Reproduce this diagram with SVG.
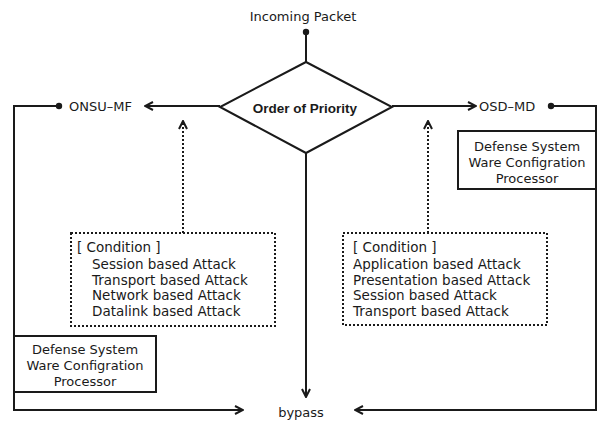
<svg xmlns="http://www.w3.org/2000/svg" width="602" height="422" viewBox="0 0 602 422">
<style>
text{font-family:"DejaVu Sans",sans-serif;font-size:13px;fill:#1a1a1a}
.c{text-anchor:middle}
.k{font-size:13.5px}
.b{font-family:"Liberation Sans",Arial,sans-serif;font-weight:bold;font-size:13.5px}
.ln{fill:none;stroke:#1a1a1a;stroke-width:2}
.dt{fill:none;stroke:#1a1a1a;stroke-width:2;stroke-dasharray:2 2}
.box{fill:#fff;stroke:#1a1a1a;stroke-width:2}
.dbox{fill:none;stroke:#1a1a1a;stroke-width:2;stroke-dasharray:2 2}
.dot{fill:#1a1a1a}
</style>
<defs>
<marker id="ah" viewBox="0 0 10 10" refX="9" refY="5" markerWidth="10" markerHeight="10" markerUnits="userSpaceOnUse" orient="auto">
<path d="M1,1 L9,5 L1,9" fill="none" stroke="#1a1a1a" stroke-width="2"/>
</marker>
</defs>
<g id="connectors">
<line class="ln" x1="306" y1="32" x2="306" y2="62"/>
<circle class="dot" cx="306" cy="32" r="3.2"/>
<line class="ln" x1="220" y1="106" x2="145" y2="106" marker-end="url(#ah)"/>
<line class="ln" x1="392" y1="106" x2="476" y2="106" marker-end="url(#ah)"/>
<line class="ln" x1="306" y1="153" x2="306" y2="397" marker-end="url(#ah)"/>
<polyline class="ln" points="59,106 14,106 14,410 243,410" marker-end="url(#ah)"/>
<circle class="dot" cx="59" cy="106" r="3.2"/>
<polyline class="ln" points="551,106 596,106 596,410 355,410" marker-end="url(#ah)"/>
<circle class="dot" cx="551" cy="106" r="3.2"/>
<line class="dt" x1="183" y1="233" x2="183" y2="121" marker-end="url(#ah)"/>
<line class="dt" x1="428" y1="233" x2="428" y2="121" marker-end="url(#ah)"/>
</g>
<g id="incoming"><text class="c" x="303" y="21">Incoming Packet</text></g>
<g id="priority">
<polygon class="box" points="306,62 392,107 306,153 220,107"/>
<text class="c b" x="305" y="113">Order of Priority</text>
</g>
<g id="onsu"><text x="69" y="111">ONSU–MF</text></g>
<g id="osd"><text x="479" y="111">OSD–MD</text></g>
<g id="dswcp-right">
<rect class="box" x="458" y="131" width="138" height="58"/>
<text class="c" x="527" y="151">Defense System</text>
<text class="c" x="527" y="167">Ware Configration</text>
<text class="c" x="527" y="183">Processor</text>
</g>
<g id="dswcp-left">
<rect class="box" x="14" y="336" width="142" height="56"/>
<text class="c" x="85" y="354">Defense System</text>
<text class="c" x="85" y="370">Ware Configration</text>
<text class="c" x="85" y="386">Processor</text>
</g>
<g id="cond-left">
<rect class="dbox" x="71" y="233" width="204" height="93"/>
<text class="k" x="77" y="252">[ Condition ]</text>
<text class="k" x="92" y="269">Session based Attack</text>
<text class="k" x="92" y="285">Transport based Attack</text>
<text class="k" x="92" y="300">Network based Attack</text>
<text class="k" x="92" y="316">Datalink based Attack</text>
</g>
<g id="cond-right">
<rect class="dbox" x="343" y="233" width="204" height="92"/>
<text class="k" x="353" y="252">[ Condition ]</text>
<text class="k" x="353" y="269">Application based Attack</text>
<text class="k" x="353" y="285">Presentation based Attack</text>
<text class="k" x="353" y="300">Session based Attack</text>
<text class="k" x="353" y="316">Transport based Attack</text>
</g>
<g id="bypass"><text class="c" x="301" y="417">bypass</text></g>
</svg>
